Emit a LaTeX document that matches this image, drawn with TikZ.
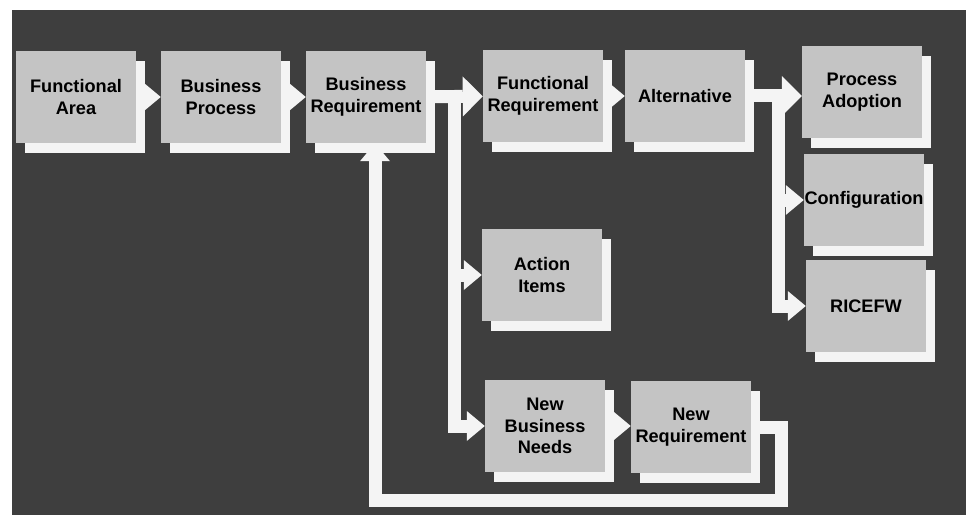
\documentclass[tikz,border=0pt]{standalone}
\usepackage{fontspec}
\setmainfont{Liberation Sans}
\usetikzlibrary{arrows.meta}
\usetikzlibrary{shadows}
\pgfdeclarelayer{back}
\pgfsetlayers{back,main}
\definecolor{slate}{RGB}{62,62,62}
\definecolor{boxgray}{RGB}{196,196,196}
\definecolor{paper}{RGB}{244,244,244}
\tikzset{
  blk/.style={fill=boxgray, minimum width=36mm, minimum height=27.6mm, inner sep=0pt,
    align=center, font=\bfseries\fontsize{15.5}{18.5}\selectfont,
    drop shadow={fill=paper, opacity=1, shadow xshift=2.8mm, shadow yshift=-3mm}},
  flow/.style={draw=paper, line width=3.9mm, line join=miter,
    -{Triangle[width=9mm, length=5.4mm, line width=0pt]}},
  bigflow/.style={flow, -{Triangle[width=12mm, length=6mm, line width=0pt]}}
}

\begin{document}
\begin{tikzpicture}[x=0.3mm, y=-0.3mm]
\useasboundingbox (0,0) rectangle (967,521);
%
\node[blk] (fa) at (76,97) {Functional\\Area};
\node[blk] (bp) at (221,97) {Business\\Process};
\node[blk] (br) at (366,97) {Business\\Requirement};
\node[blk] (fr) at (543,96) {Functional\\Requirement};
\node[blk] (alt) at (685,96) {Alternative};
%
\node[blk] (pa) at (862,92) {Process\\Adoption};
\node[blk] (cfg) at (864,200) {Configuration};
\node[blk] (rice) at (866,306) {RICEFW};
%
\node[blk] (ai) at (542,275) {Action\\Items};
\node[blk] (nbn) at (545,426) {New\\Business\\Needs};
\node[blk] (nr) at (691,427) {New\\Requirement};
%
\coordinate (s1) at (454,97);
\coordinate (s2) at (778,96);
\coordinate (lr) at (781,500);
\coordinate (ll) at (375,500);
%
\begin{pgfonlayer}{back}
\fill[slate] (12,10) rectangle (966,515);
\draw[flow] (fa) -- (bp);
\draw[flow] (bp) -- (br);
\draw[bigflow] (br) -- (fr);
\draw[flow] (s1) |- (ai);
\draw[flow] (s1) |- (nbn);
\draw[flow] (fr) -- (alt);
\draw[bigflow] (alt) -- (alt -| pa.west);
\draw[flow] (s2) |- (cfg);
\draw[flow] (s2) |- (rice);
\draw[flow] (nbn) -- (nbn -| nr.west);
\draw[flow] (nr) -| (lr) -- (ll) -- (ll |- br.south);
\end{pgfonlayer}
\end{tikzpicture}
\end{document}
